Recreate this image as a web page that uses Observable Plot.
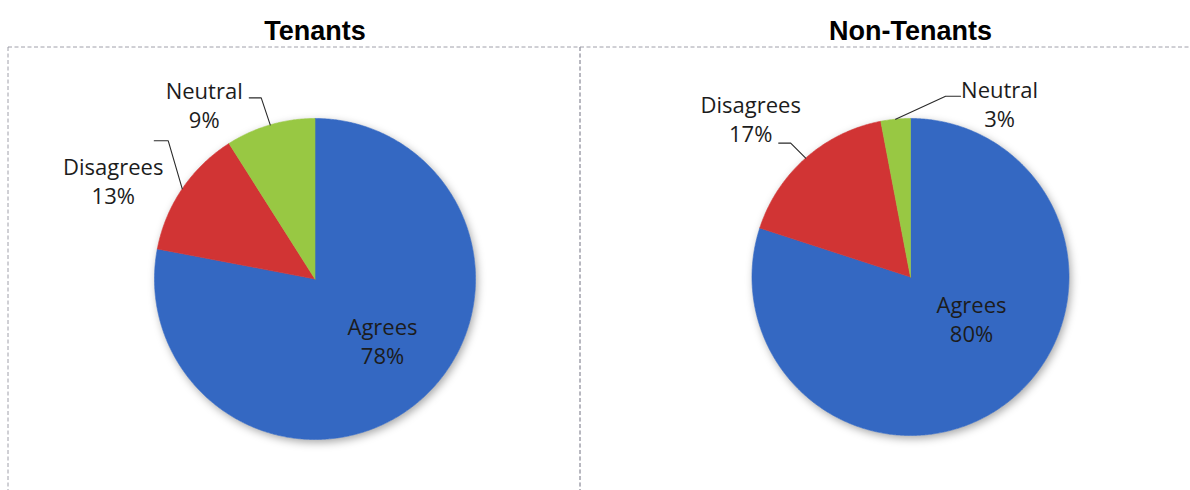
<!DOCTYPE html>
<html><head><meta charset="utf-8">
<script src="https://cdn.jsdelivr.net/npm/d3@7"></script>
<script src="https://cdn.jsdelivr.net/npm/@observablehq/plot@0.6"></script>
<style>
html,body{margin:0;padding:0;background:#fff;overflow:hidden}
#chart svg{display:block}
</style>
</head><body><div id="chart"></div>
<script>
// ---- data ----
const chartTitles = ["Tenants", "Non-Tenants"];
const categories = ["Agrees", "Disagrees", "Neutral"];
const tenantsPercent = [78, 13, 9];
const nonTenantsPercent = [80, 17, 3];

// ---- styles / layout (not data) ----
const sliceColors = ["#3468c2", "#d13434", "#98c843"];
const pies = [
  {cx: 314.5, cy: 278.5, r: 160.5},
  {cx: 910, cy: 276.5, r: 158.5}
];
const panels = [
  {x1: 8, x2: 580, y1: 47, y2: 530},
  {x1: 580, x2: 1230, y1: 47, y2: 530}
];
const titleY = 31;
// label placement: inside labels are offsets from pie centre;
// outside labels are offsets from the slice's perimeter mid point
const labelLayout = [
  [
    {inside: true, text: [67.5, 48.5]},
    {elbow: [-14, -48], end: [-28, -48], text: [-69, -21]},
    {elbow: [-9, -27], end: [-21, -27], text: [-66, -33]}
  ],
  [
    {inside: true, text: [61, 28.5]},
    {elbow: [-15, -15], end: [-27, -15], text: [-55, -52]},
    {elbow: [50, -23], end: [65, -23], text: [104, -28]}
  ]
];

const seriesList = [tenantsPercent, nonTenantsPercent];
const rad = d => d * Math.PI / 180;
const polar = (p, deg, rr) => ({x: p.cx + rr * Math.sin(rad(deg)), y: p.cy - rr * Math.cos(rad(deg))});

const sliceMarks = [];
const labelRows = [];
const leaderPts = [];
seriesList.forEach((vals, ci) => {
  const pie = pies[ci];
  const total = d3.sum(vals);
  let acc = 0;
  vals.forEach((v, k) => {
    const a0 = acc / total * 360;
    acc += v;
    const a1 = acc / total * 360;
    const n = Math.max(2, Math.ceil((a1 - a0) / 0.5));
    const pts = [{x: pie.cx, y: pie.cy}];
    for (let i = 0; i <= n; i++) pts.push(polar(pie, a0 + (a1 - a0) * i / n, pie.r));
    pts.push({x: pie.cx, y: pie.cy});
    sliceMarks.push(Plot.line(pts, {x: "x", y: "y", fill: sliceColors[k], stroke: sliceColors[k], strokeWidth: 0.6, curve: "linear"}));

    const lay = labelLayout[ci][k];
    const mid = (a0 + a1) / 2;
    const P = polar(pie, mid, pie.r);
    if (lay.inside) {
      labelRows.push({x: pie.cx + lay.text[0], y: pie.cy + lay.text[1], name: categories[k], pct: v + "%"});
    } else {
      labelRows.push({x: P.x + lay.text[0], y: P.y + lay.text[1], name: categories[k], pct: v + "%"});
      const key = ci + "-" + k;
      leaderPts.push({key, x: P.x, y: P.y});
      leaderPts.push({key, x: P.x + lay.elbow[0], y: P.y + lay.elbow[1]});
      leaderPts.push({key, x: P.x + lay.end[0], y: P.y + lay.end[1]});
    }
  });
});

const titleRows = chartTitles.map((t, i) => ({x: pies[i].cx, y: titleY, t}));

const plot = Plot.plot({
  width: 1190,
  height: 490,
  margin: 0,
  x: {type: "linear", domain: [0, 1190], range: [0, 1190], axis: null},
  y: {type: "linear", domain: [0, 490], range: [0, 490], axis: null},
  r: {type: "identity"},
  style: {background: "#fff", fontFamily: "Open Sans"},
  marks: [
    Plot.rect(panels, {x1: "x1", x2: "x2", y1: "y1", y2: "y2", fill: "none", stroke: "#a0a0aa", strokeWidth: 1, strokeDasharray: "4,2.5"}),
    Plot.dot(pies, {x: "cx", y: "cy", r: "r", fill: "#fff", stroke: "none"}),
    ...sliceMarks,
    Plot.line(leaderPts, {x: "x", y: "y", z: "key", stroke: "#2a2a2a", strokeWidth: 1.1}),
    Plot.text(labelRows, {x: "x", y: "y", text: "name", fontSize: 22, fill: "#1c1c1c", fontFamily: "Open Sans"}),
    Plot.text(labelRows, {x: "x", y: "y", text: "pct", dy: 29, fontSize: 22, fill: "#1c1c1c", fontFamily: "Open Sans"}),
    Plot.text(titleRows, {x: "x", y: "y", text: "t", fontSize: 27, fontWeight: "bold", fill: "#000", fontFamily: "Liberation Sans"})
  ]
});
d3.select(plot).selectAll('g[aria-label="dot"]').style("filter", "drop-shadow(2px 3px 4px rgba(0,0,0,0.35))");
document.getElementById("chart").appendChild(plot);
</script>
</body></html>
